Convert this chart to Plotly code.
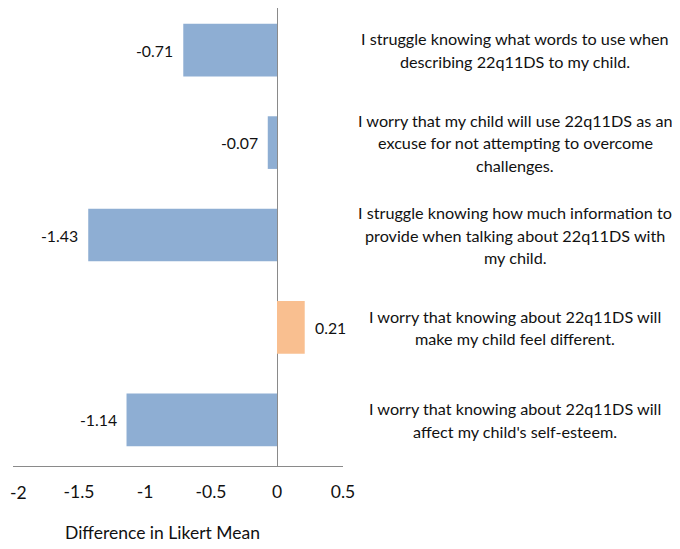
import plotly.graph_objects as go

statements = [
    "I struggle knowing what words to use when<br>describing 22q11DS to my child.",
    "I worry that my child will use 22q11DS as an<br>excuse for not attempting to overcome<br>challenges.",
    "I struggle knowing how much information to<br>provide when talking about 22q11DS with<br>my child.",
    "I worry that knowing about 22q11DS will<br>make my child feel different.",
    "I worry that knowing about 22q11DS will<br>affect my child's self-esteem.",
]
differences = [-0.71, -0.07, -1.43, 0.21, -1.14]
tick_values = [-2, -1.5, -1, -0.5, 0, 0.5]
tick_labels = ["-2", "-1.5", "-1", "-0.5", "0", "0.5"]
axis_title = "Difference in Likert Mean"

BLUE = "#8EAED3"
ORANGE = "#F9BF90"
GRAY = "#8A8A8A"
FONT = "Lato"
TICK_SIZE = 17.5

# page body has an 8px margin; figure sized to fit the window
OFF = 8
W, H = 680 - OFF, 549 - OFF
P_LEFT, P_RIGHT, P_TOP, P_BOTTOM = 13, 343, OFF, 466  # plot area in page px
L = P_LEFT - OFF
T = P_TOP - OFF
R = W - (P_RIGHT - OFF)
B = H - (P_BOTTOM - OFF)
pw = P_RIGHT - P_LEFT
ph = P_BOTTOM - P_TOP

def px_x(px):
    return (px - P_LEFT) / pw

def px_y(py):
    return (P_BOTTOM - py) / ph

# reference category band spans page y 4..466
ref_top = 4
n_cat = len(statements)
y_top = -0.5 + (P_TOP - ref_top) * n_cat / (P_BOTTOM - ref_top)

colors = [ORANGE if v > 0 else BLUE for v in differences]
fig = go.Figure(go.Bar(
    x=differences, y=statements, orientation="h",
    marker=dict(color=colors, line=dict(width=0)),
    hoverinfo="skip",
))

annotations = []
for s, v in zip(statements, differences):
    annotations.append(dict(
        x=v, y=s, xref="x", yref="y", text=f"{v:.2f}",
        showarrow=False, xanchor="left" if v > 0 else "right",
        xshift=8 if v > 0 else -8, font=dict(family=FONT, size=15.8, color="#111"),
    ))
label_x = px_x(515)
spacing = 22.5
for s in statements:
    lines = s.split("<br>")
    n = len(lines)
    for i, ln in enumerate(lines):
        annotations.append(dict(
            x=label_x, y=s, xref="paper", yref="y", text=ln, showarrow=False,
            xanchor="center", yanchor="middle",
            yshift=-(i - (n - 1) / 2) * spacing,
            font=dict(family=FONT, size=16.2, color="#111"),
        ))
annotations.append(dict(
    x=px_x(162), y=px_y(532), xref="paper", yref="paper",
    text=axis_title, showarrow=False, xanchor="center", yanchor="middle",
    font=dict(family=FONT, size=17.5, color="#111"),
))
# the leftmost tick label would be clipped at the page edge; draw it nudged inward
shown_ticktext = [""] + tick_labels[1:]
annotations.append(dict(
    x=tick_values[0], y=px_y(492), xref="x", yref="paper", text=tick_labels[0],
    showarrow=False, xanchor="left", yanchor="middle", borderpad=0, xshift=-4,
    font=dict(family=FONT, size=TICK_SIZE, color="#111"),
))

fig.update_layout(
    width=W, height=H,
    margin=dict(l=L, r=R, t=T, b=B, pad=0, autoexpand=False),
    paper_bgcolor="white", plot_bgcolor="white",
    bargap=0.43, showlegend=False,
    font=dict(family=FONT, color="#111"),
    annotations=annotations,
    xaxis=dict(
        range=[-2, 0.5], tickvals=tick_values, ticktext=shown_ticktext,
        showgrid=False, zeroline=True, zerolinecolor=GRAY, zerolinewidth=1.2,
        showline=True, linecolor=GRAY, linewidth=1.2,
        ticks="outside", ticklen=0, ticklabelstandoff=10,
        tickfont=dict(family=FONT, size=TICK_SIZE, color="#111"),
        automargin=False, fixedrange=True,
    ),
    yaxis=dict(
        categoryorder="array", categoryarray=statements,
        range=[n_cat - 0.5, y_top],
        showticklabels=False, showgrid=False, zeroline=False, showline=False,
        ticks="", automargin=False, fixedrange=True,
    ),
)

fig.write_html("out.html")
